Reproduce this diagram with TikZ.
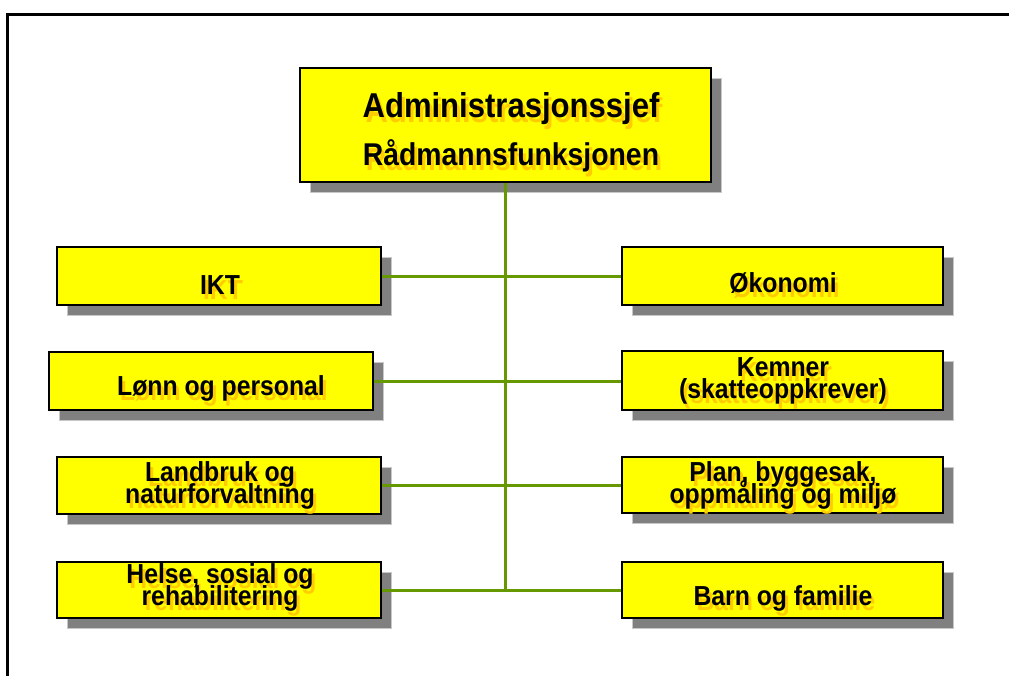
\documentclass[tikz,border=0pt]{standalone}
\usepackage{fontspec}
\setmainfont{Liberation Sans}[FakeStretch=0.9]
\usetikzlibrary{shadows}

\definecolor{boxyellow}{RGB}{255,255,0}
\definecolor{glowgold}{RGB}{255,204,0}
\definecolor{linkgreen}{RGB}{102,153,0}
\definecolor{dropgrey}{RGB}{128,128,128}
\definecolor{dropedge}{RGB}{200,200,200}

% text with a gold copy set slightly below and to the right
\newcommand\glow[1]{\leavevmode\rlap{\hskip3pt\smash{\raisebox{-5pt}{\textcolor{glowgold}{#1}}}}#1}
% let lines sit at the baseline distance even when they would touch
\newcommand\tightlines{\lineskiplimit=-100pt\relax}

\tikzset{
  unit/.style={draw=black, line width=1.8pt, fill=boxyellow, rectangle, inner sep=0pt,
    drop shadow={shadow xshift=10pt, shadow yshift=-10pt, opacity=1,
                 fill=dropgrey, draw=dropedge, line width=0.8pt}},
  lbl/.style={anchor=base, inner sep=0pt, align=center,
    font={\bfseries\fontsize{27.5}{22}\selectfont\tightlines}},
  link/.style={draw=linkgreen, line width=3pt},
  frame/.style={draw=black, line width=3pt}
}

\begin{document}
\begin{tikzpicture}[x=1pt, y=-1pt]
\useasboundingbox (0,0) rectangle (1009,675);

% page frame: top and left edges
\draw[frame] (7,676) -- (7,14) -- (1010,14);

% boxes
\node[unit, minimum width=411pt, minimum height=114pt] (chief) at (505.5,125) {};

\node[unit, minimum width=324pt, minimum height=58pt] (ikt)    at (219,276) {};
\node[unit, minimum width=324pt, minimum height=58pt] (lonn)   at (211,381) {};
\node[unit, minimum width=324pt, minimum height=57pt] (land)   at (219,485.5) {};
\node[unit, minimum width=324pt, minimum height=56pt] (helse)  at (219,590) {};

\node[unit, minimum width=321pt, minimum height=58pt] (okon)   at (782.5,276) {};
\node[unit, minimum width=321pt, minimum height=59pt] (kemner) at (782.5,380.5) {};
\node[unit, minimum width=321pt, minimum height=56pt] (plan)   at (782.5,485) {};
\node[unit, minimum width=321pt, minimum height=56pt] (barn)   at (782.5,590) {};

% connectors
\draw[link] (chief.south) -- (chief.south |- helse.east);
\draw[link] (ikt.east)   -- (ikt.east -| okon.west);
\draw[link] (lonn.east)  -- (lonn.east -| kemner.west);
\draw[link] (land.east)  -- (land.east -| plan.west);
\draw[link] (helse.east) -- (helse.east -| barn.west);

% labels (multi-line labels are placed by the baseline of their last line)
\node[lbl, font={\bfseries\fontsize{34.5}{40}\selectfont}] (chief-a) at (511,117) {\glow{Administrasjonssjef}};
\node[lbl, font={\bfseries\fontsize{31.5}{36}\selectfont}] (chief-b) at (511,165) {\glow{Rådmannsfunksjonen}};

\node[lbl] (ikt-t)    at (220,294) {\glow{IKT}};
\node[lbl] (lonn-t)   at (221,395) {\glow{Lønn og personal}};
\node[lbl] (land-t)   at (220,503) {\glow{Landbruk og}\\\glow{naturforvaltning}};
\node[lbl] (helse-t)  at (220,605) {\glow{Helse, sosial og}\\\glow{rehabilitering}};

\node[lbl] (okon-t)   at (783,292) {\glow{Økonomi}};
\node[lbl] (kemner-t) at (783,398.5) {\glow{Kemner}\\\glow{(skatteoppkrever)}};
\node[lbl] (plan-t)   at (783,503) {\glow{Plan, byggesak,}\\\glow{oppmåling og miljø}};
\node[lbl] (barn-t)   at (783,605) {\glow{Barn og familie}};
\end{tikzpicture}
\end{document}
